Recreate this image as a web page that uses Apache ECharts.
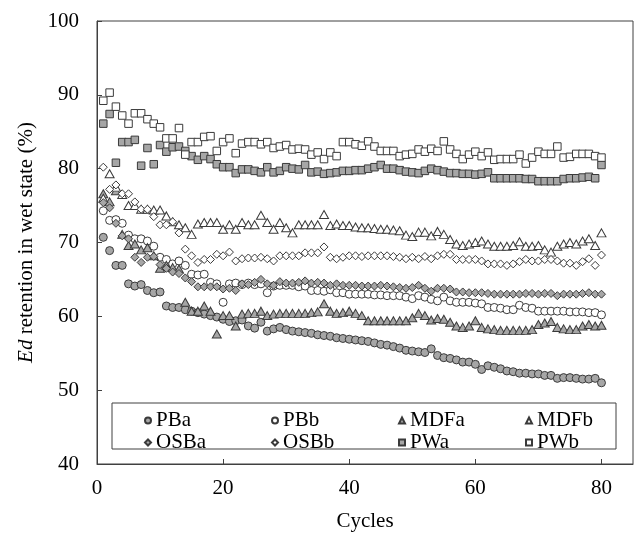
<!DOCTYPE html>
<html>
<head>
<meta charset="utf-8">
<script src="https://cdn.jsdelivr.net/npm/echarts@6/dist/echarts.min.js"></script>
<style>
  html, body { margin: 0; padding: 0; background: #fff; }
  #chart { width: 636px; height: 537px; }
</style>
</head>
<body>
<div id="chart"></div>
<script>
// x values (cycle number)
const cycles = [1, 2, 3, 4, 5, 6, 7, 8, 9, 10, 11, 12, 13, 14, 15, 16, 17, 18, 19, 20,
  21, 22, 23, 24, 25, 26, 27, 28, 29, 30, 31, 32, 33, 34, 35, 36, 37, 38, 39, 40,
  41, 42, 43, 44, 45, 46, 47, 48, 49, 50, 51, 52, 53, 54, 55, 56, 57, 58, 59, 60,
  61, 62, 63, 64, 65, 66, 67, 68, 69, 70, 71, 72, 73, 74, 75, 76, 77, 78, 79, 80];

const xTicks = [0, 20, 40, 60, 80];
const yTicks = [40, 50, 60, 70, 80, 90, 100];

// Ed retention (%)
const pba = [70.7, 68.9, 66.9, 66.9, 64.4, 64.1, 64.3, 63.5, 63.2, 63.3,
  61.4, 61.2, 61.2, 60.9, 60.7, 60.5, 60.3, 60.1, 59.9, 59.6,
  59.3, 59.4, 59.5, 58.7, 58.4, 59.2, 58.0, 58.3, 58.5, 58.2,
  58.0, 57.9, 57.8, 57.7, 57.5, 57.4, 57.3, 57.1, 57.0, 56.9,
  56.8, 56.7, 56.6, 56.4, 56.2, 56.1, 55.9, 55.7, 55.4, 55.3,
  55.2, 55.1, 55.6, 54.7, 54.4, 54.3, 54.1, 53.8, 53.8, 53.5,
  52.8, 53.3, 53.1, 52.9, 52.6, 52.5, 52.3, 52.3, 52.2, 52.2,
  52.0, 52.0, 51.6, 51.7, 51.7, 51.6, 51.5, 51.5, 51.6, 51.0];
const pbb = [74.3, 73.0, 73.1, 72.6, 71.0, 70.5, 70.5, 70.2, 69.5, 68.0,
  67.7, 67.1, 67.5, 66.9, 65.7, 65.6, 65.7, 64.6, 64.4, 61.9,
  64.4, 64.5, 64.3, 64.5, 64.3, 64.4, 63.2, 64.1, 64.2, 64.2,
  64.2, 64.0, 64.1, 63.5, 63.5, 63.4, 63.6, 63.2, 63.2, 63.0,
  63.0, 63.0, 63.0, 62.9, 62.9, 62.8, 62.8, 62.8, 62.6, 62.4,
  62.8, 62.6, 62.3, 62.1, 62.6, 62.1, 61.9, 61.9, 61.9, 61.8,
  61.7, 61.2, 61.2, 61.1, 60.9, 60.9, 61.5, 61.2, 61.1, 60.7,
  60.7, 60.7, 60.7, 60.7, 60.6, 60.6, 60.6, 60.5, 60.5, 60.2];
const mdfa = [76.6, 75.5, 77.0, 71.1, 69.6, 69.8, 69.0, 69.3, 68.2, 66.5,
  66.9, 66.6, 66.4, 61.9, 60.7, 60.7, 61.4, 60.7, 57.6, 60.1,
  60.1, 58.7, 60.3, 60.4, 60.4, 60.7, 60.1, 60.3, 60.4, 60.4,
  60.4, 60.4, 60.4, 60.5, 60.6, 61.7, 60.7, 60.4, 60.5, 60.7,
  60.4, 60.1, 59.4, 59.4, 59.4, 59.4, 59.4, 59.4, 59.4, 59.8,
  60.4, 60.1, 59.5, 59.7, 59.6, 59.2, 58.7, 58.5, 58.7, 59.4,
  58.5, 58.3, 58.2, 58.1, 58.1, 58.1, 58.1, 58.1, 58.2, 58.9,
  59.1, 59.3, 58.5, 58.3, 58.2, 58.2, 58.7, 58.9, 58.7, 58.8];
const mdfb = [76.0, 79.3, 77.5, 76.5, 75.0, 75.0, 74.5, 74.5, 74.4, 74.4,
  73.6, 72.8, 72.4, 72.0, 71.1, 72.5, 72.7, 72.7, 72.7, 71.8,
  72.4, 71.8, 72.7, 72.4, 72.4, 73.7, 72.7, 71.8, 72.7, 72.0,
  71.3, 72.4, 72.4, 72.4, 72.4, 73.8, 72.3, 72.5, 72.3, 72.3,
  72.1, 72.0, 72.0, 71.9, 71.8, 71.8, 71.7, 71.6, 71.0, 70.8,
  71.4, 71.4, 70.9, 71.5, 71.1, 70.4, 69.8, 69.6, 69.8, 70.0,
  70.2, 69.8, 69.5, 69.5, 69.5, 69.6, 70.1, 69.5, 69.5, 69.6,
  69.0, 68.7, 69.5, 69.8, 70.0, 69.8, 70.2, 70.5, 69.6, 71.3];
const osba = [75.4, 74.7, 72.6, 70.9, 70.5, 68.0, 67.3, 68.0, 68.1, 67.0,
  66.5, 66.0, 65.8, 65.2, 64.7, 64.0, 64.0, 64.0, 64.0, 63.7,
  63.8, 63.5, 64.4, 64.3, 64.6, 65.0, 64.4, 64.2, 64.7, 64.5,
  64.5, 64.6, 64.8, 64.5, 64.6, 64.5, 64.2, 64.4, 64.2, 64.2,
  64.2, 64.1, 64.1, 64.1, 64.2, 64.1, 64.0, 63.9, 63.8, 63.9,
  64.2, 63.8, 63.4, 63.8, 63.8, 63.7, 63.3, 63.3, 63.2, 63.2,
  63.2, 63.1, 63.0, 63.0, 63.0, 63.0, 63.0, 63.1, 63.1, 63.0,
  63.1, 63.1, 62.8, 63.0, 63.0, 63.0, 63.1, 63.2, 63.0, 63.0];
const osbb = [80.2, 77.2, 77.8, 76.6, 76.6, 75.5, 74.5, 74.5, 73.5, 72.4,
  72.4, 72.8, 71.3, 69.1, 68.2, 67.3, 67.7, 67.7, 68.4, 68.2,
  68.7, 67.5, 67.8, 67.9, 67.9, 68.0, 67.8, 67.5, 68.2, 68.2,
  68.2, 68.2, 68.6, 68.6, 68.6, 69.4, 68.0, 67.8, 68.0, 68.2,
  68.2, 68.1, 68.2, 68.2, 68.2, 68.2, 68.1, 68.0, 67.8, 68.0,
  67.8, 68.1, 67.8, 68.2, 68.4, 68.4, 67.7, 67.7, 67.7, 67.7,
  67.5, 67.1, 67.1, 67.1, 66.9, 67.1, 67.4, 67.7, 67.5, 67.5,
  67.7, 67.7, 67.5, 67.2, 67.2, 66.9, 67.4, 67.8, 66.9, 68.3];
const pwa = [86.1, 87.4, 80.8, 83.6, 83.6, 83.9, 80.4, 82.8, 80.6, 83.2,
  82.3, 82.9, 83.0, 82.4, 81.7, 81.2, 81.7, 81.3, 80.6, 80.2,
  80.2, 79.4, 79.9, 79.9, 79.7, 79.5, 80.2, 79.5, 79.7, 80.2,
  80.0, 79.9, 80.5, 79.5, 79.6, 79.3, 79.4, 79.5, 79.7, 79.7,
  79.8, 79.8, 80.0, 80.2, 80.5, 80.0, 80.0, 79.8, 79.6, 79.5,
  79.4, 79.7, 80.0, 79.8, 79.6, 79.4, 79.4, 79.3, 79.3, 79.2,
  79.3, 79.5, 78.7, 78.7, 78.7, 78.7, 78.7, 78.6, 78.6, 78.3,
  78.3, 78.3, 78.3, 78.6, 78.7, 78.7, 78.8, 78.9, 78.7, 80.5];
const pwb = [89.2, 90.3, 88.4, 87.2, 86.1, 87.5, 87.5, 86.7, 86.1, 85.6,
  84.1, 84.1, 85.5, 81.9, 83.6, 83.6, 84.3, 84.4, 82.4, 83.6,
  84.1, 82.1, 83.4, 83.6, 83.6, 83.3, 83.6, 82.8, 83.0, 83.2,
  82.6, 82.7, 82.6, 81.9, 82.2, 81.3, 82.2, 81.7, 83.6, 83.6,
  83.3, 83.1, 83.7, 83.0, 82.4, 82.4, 82.4, 81.7, 81.9, 82.0,
  82.6, 82.3, 82.7, 82.4, 83.7, 82.6, 82.0, 81.3, 81.9, 82.3,
  81.7, 82.2, 81.2, 81.3, 81.3, 81.3, 81.9, 80.7, 81.5, 82.3,
  82.0, 82.0, 83.0, 81.5, 81.6, 82.0, 82.0, 82.0, 81.7, 81.5];

const GRAY = '#a6a6a6';
const EDGE = '#3a3a3a';
const FONT = '"Liberation Serif", "Times New Roman", serif';

const defs = [
  { name: 'PBa', values: pba, symbol: 'circle', size: 8, fill: GRAY },
  { name: 'PBb', values: pbb, symbol: 'circle', size: 8, fill: '#fff' },
  { name: 'MDFa', values: mdfa, symbol: 'triangle', size: [9, 8], fill: GRAY },
  { name: 'MDFb', values: mdfb, symbol: 'triangle', size: [9, 8], fill: '#fff' },
  { name: 'OSBa', values: osba, symbol: 'diamond', size: [8, 8], fill: GRAY },
  { name: 'OSBb', values: osbb, symbol: 'diamond', size: [8, 8], fill: '#fff' },
  { name: 'PWa', values: pwa, symbol: 'rect', size: 7.5, fill: GRAY },
  { name: 'PWb', values: pwb, symbol: 'rect', size: 7.5, fill: '#fff' },
];

const chart = echarts.init(document.getElementById('chart'), null, { renderer: 'canvas' });

// legend: 4 columns x 2 rows inside a framed box
const legends = defs.map((d, i) => ({
  data: [d.name],
  left: 139 + (i % 4) * 127,
  top: i < 4 ? 405 : 427,
  itemWidth: 6,
  itemHeight: 6,
  selectedMode: false,
  textStyle: { fontFamily: FONT, fontSize: 21, color: '#000' },
}));

const option = {
  animation: false,
  backgroundColor: '#fff',
  grid: { left: 97, right: 3, top: 21, bottom: 72, show: true, borderColor: '#404040', borderWidth: 1 },
  graphic: [{
    type: 'rect',
    z: 1,
    shape: { x: 112, y: 403, width: 504, height: 46 },
    style: { fill: '#fff', stroke: '#404040', lineWidth: 1 },
  }],
  legend: legends,
  xAxis: {
    type: 'value',
    min: 0,
    max: 85,
    interval: 20,
    name: 'Cycles',
    nameLocation: 'middle',
    nameGap: 47,
    nameTextStyle: { fontFamily: FONT, fontSize: 21, color: '#000' },
    axisLine: { lineStyle: { color: '#404040', width: 1 } },
    axisTick: { inside: true, length: 5, customValues: xTicks, lineStyle: { color: '#404040' } },
    axisLabel: { customValues: xTicks, margin: 14, fontFamily: FONT, fontSize: 21, color: '#000' },
    splitLine: { show: false },
  },
  yAxis: {
    type: 'value',
    min: 40,
    max: 100,
    interval: 10,
    name: '{i|Ed} retention in wet state (%)',
    nameLocation: 'middle',
    nameRotate: 90,
    nameGap: 60,
    nameTextStyle: {
      fontFamily: FONT, fontSize: 21, color: '#000',
      rich: { i: { fontFamily: FONT, fontSize: 21, fontStyle: 'italic', color: '#000' } },
    },
    axisLine: { show: true, lineStyle: { color: '#404040', width: 1 } },
    axisTick: { show: true, inside: true, length: 5, customValues: yTicks, lineStyle: { color: '#404040' } },
    axisLabel: { customValues: yTicks, margin: 18, fontFamily: FONT, fontSize: 21, color: '#000' },
    splitLine: { show: false },
  },
  series: defs.map((d) => ({
    name: d.name,
    type: 'scatter',
    symbol: d.symbol,
    symbolSize: d.size,
    data: cycles.map((c, i) => [c, d.values[i]]),
    itemStyle: { color: d.fill, borderColor: EDGE, borderWidth: 1, opacity: 1 },
    emphasis: { disabled: true },
    z: 3,
  })),
};

chart.setOption(option);
</script>
</body>
</html>
